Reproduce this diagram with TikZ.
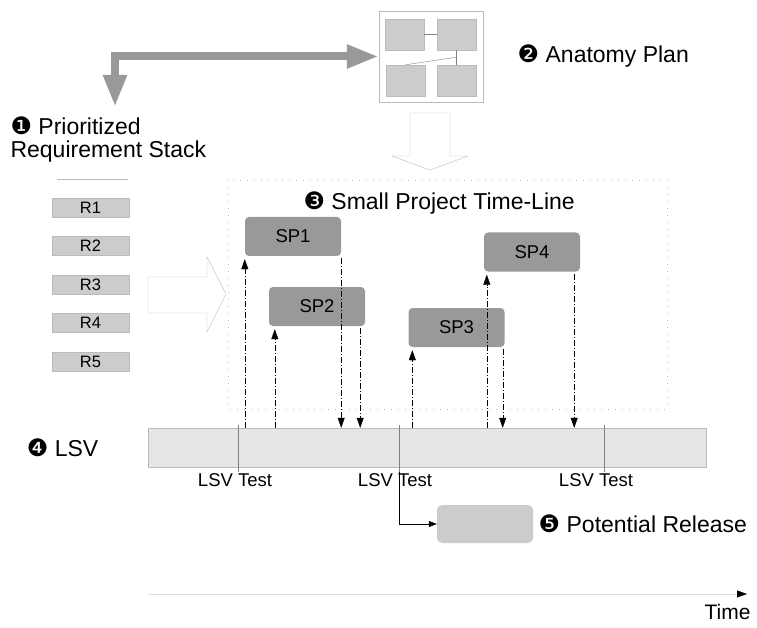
\documentclass[tikz,border=0pt]{standalone}
\usepackage{fontspec}
\setmainfont{Liberation Sans}
\newfontfamily\dingfont{DejaVu Sans}
\usetikzlibrary{arrows.meta}
\usetikzlibrary{positioning}

\definecolor{boxgray}{HTML}{CCCCCC}
\definecolor{spgray}{HTML}{999999}
\definecolor{bargray}{HTML}{E5E5E5}
\definecolor{linegray}{HTML}{BBBBBB}

\newcommand{\bnum}[1]{{\dingfont\fontsize{24}{24}\selectfont #1}}

\begin{document}
\begin{tikzpicture}[x=1pt,y=-1pt,
  every node/.style={font=\fontsize{23}{23}\selectfont},
  req/.style={draw=linegray, fill=boxgray, minimum width=77pt, minimum height=19pt, inner sep=0pt, font=\fontsize{16.5}{18}\selectfont},
  sp/.style={fill=spgray, rounded corners=4pt, minimum width=96pt, minimum height=39pt, font=\fontsize{18.5}{20}\selectfont},
  planbox/.style={draw=linegray, fill=boxgray, minimum width=39pt, minimum height=31pt, inner sep=0pt},
  flow/.style={dash pattern=on 6pt off 2pt on 1pt off 2pt, -{Triangle[length=10pt,width=7pt]}},
  hollow/.style={draw=linegray, fill=white},
  testlabel/.style={font=\fontsize{18.5}{20}\selectfont}]
  \useasboundingbox (0,0) rectangle (757,628);

  % anatomy plan
  \node[draw=linegray, minimum width=104pt, minimum height=91pt] (frame) at (431,56.5) {};
  \node[planbox] (pa) at (404.5,34.5) {};
  \node[planbox] (pb) at (456.5,34.5) {};
  \node[planbox] (pc) at (405.5,80.5) {};
  \node[planbox] (pd) at (456.5,80.5) {};
  \draw[gray] (pa.east) -- (pb.west);
  \draw[gray] (pb.south) -- (pd.north);
  \draw[gray] ([yshift=-7pt]pb.south) -- (pc.north);
  \node[right=31pt of frame] (planlabel) {\bnum{❷} Anatomy Plan};

  % requirement stack
  \coordinate (stacktop) at (115,107);
  \draw[spgray, line width=8pt, {Triangle[length=32pt,width=22pt]}-{Triangle[length=32pt,width=22pt]}] (stacktop) |- (frame.west);
  \node[anchor=north west, align=left] (stacklabel) at (7,113) {\bnum{❶} Prioritized\\Requirement Stack};
  \draw[linegray] (57,179) -- (128,179);
  \foreach \i in {1,...,5}
    \node[req] (r\i) at (90.5,{207.5+38.5*(\i-1)}) {R\i};

  % hollow arrows
  \draw[hollow] (410,113) -- (450,113) -- (450,156) -- (468,156) -- (430,170) -- (392,156) -- (410,156) -- cycle;
  \draw[hollow] (148,277) -- (207,277) -- (207,257) -- (226,294) -- (207,332) -- (207,313) -- (148,313) -- cycle;

  % small projects
  \draw[linegray, dash pattern=on 1pt off 6pt] (228,180) rectangle (667,409);
  \node[anchor=west] (sptitle) at (300,203) {\bnum{❸} Small Project Time-Line};
  \node[sp] (sp1) at (293,236.5) {SP1};
  \node[sp] (sp2) at (317,306.5) {SP2};
  \node[sp] (sp3) at (456.5,327.5) {SP3};
  \node[sp] (sp4) at (532,252) {SP4};

  % LSV
  \node[draw=linegray, fill=bargray, minimum width=558pt, minimum height=39pt, inner sep=0pt] (lsv) at (427,447.5) {};
  \node[left=46pt of lsv] (lsvlabel) {\bnum{❹} LSV};
  \draw[gray] (238,425) -- (238,472);
  \draw[gray] (604,425) -- (604,472);
  \node[testlabel] (test1) at (235,480) {LSV Test};
  \node[testlabel] (test2) at (395,480) {LSV Test};
  \node[testlabel] (test3) at (596,480) {LSV Test};

  \foreach \s/\dx in {sp1/0, sp2/6, sp3/4, sp4/3} {
    \coordinate (up) at ([xshift=\dx pt, yshift=-3pt]\s.south west);
    \draw[flow] (up |- lsv.north) -- (up);
  }
  \foreach \s/\dx in {sp1/0, sp2/5, sp3/2, sp4/6} {
    \coordinate (dn) at ([xshift=-\dx pt, yshift=-2pt]\s.south east);
    \draw[flow] (dn) -- (dn |- lsv.north);
  }

  % potential release
  \node[fill=boxgray, rounded corners=5pt, minimum width=96pt, minimum height=38pt] (release) at (485,524) {};
  \draw[gray] (399,425) -- (399,472);
  \draw[-{Triangle[length=8pt,width=6pt]}] (399,472) |- (release.west);
  \node[right=2pt of release] (rellabel) {\bnum{❺} Potential Release};

  % time axis
  \coordinate (tstart) at (148,594);
  \coordinate (tend) at (747,594);
  \draw[gray!25, -{Triangle[length=10pt,width=7pt,black]}] (tstart) -- (tend);
  \node[anchor=north east, font=\fontsize{21}{21}\selectfont] (timelabel) at (754,601) {Time};
\end{tikzpicture}
\end{document}
